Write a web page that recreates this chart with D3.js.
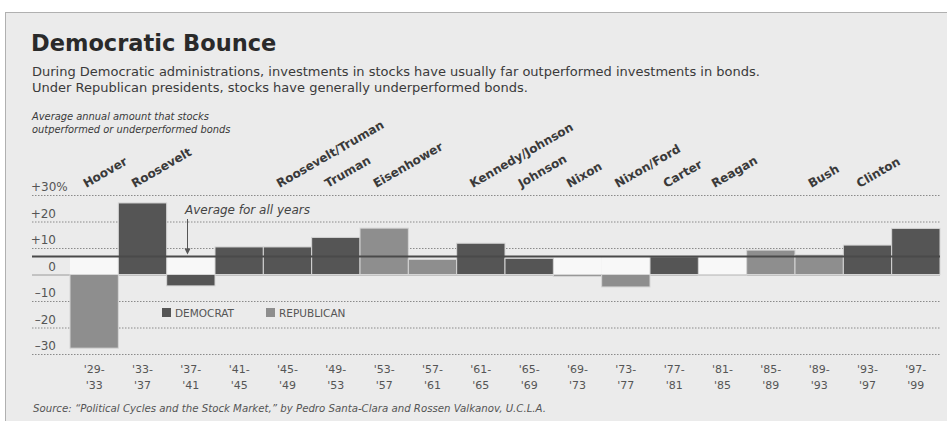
<!DOCTYPE html>
<html>
<head>
<meta charset="utf-8">
<script src="https://cdn.jsdelivr.net/npm/d3@7"></script>
<style>
  body { margin: 0; background: #fff; }
  svg { display: block; font-family: "DejaVu Sans", Verdana, sans-serif; }
</style>
</head>
<body>
<div id="chart"></div>
<script>
var periods = [["'29-", "'33"], ["'33-", "'37"], ["'37-", "'41"], ["'41-", "'45"], ["'45-", "'49"], ["'49-", "'53"],
  ["'53-", "'57"], ["'57-", "'61"], ["'61-", "'65"], ["'65-", "'69"], ["'69-", "'73"], ["'73-", "'77"],
  ["'77-", "'81"], ["'81-", "'85"], ["'85-", "'89"], ["'89-", "'93"], ["'93-", "'97"], ["'97-", "'99"]];
var presidents = ["Hoover", "Roosevelt", "", "", "Roosevelt/Truman", "Truman", "Eisenhower", "", "Kennedy/Johnson",
  "Johnson", "Nixon", "Nixon/Ford", "Carter", "Reagan", "", "Bush", "Clinton", ""];
var party = ["R", "D", "D", "D", "D", "D", "R", "R", "D", "D", "R", "R", "D", "R", "R", "R", "D", "D"];
var values = [-27.8, 27.0, -4.3, 10.4, 10.4, 14.0, 17.5, 5.7, 11.8, 6.1, -0.7, -4.7, 6.7, -0.3, 9.2, 7.4, 11.1, 17.4];
var average = 6.8;
var yTicks = [30, 20, 10, 0, -10, -20, -30];

var width = 947, height = 421;
var colors = { D: "#555555", R: "#8e8e8e" };
var ink = "#3a3a3a";

var svg = d3.select("#chart").append("svg").attr("width", width).attr("height", height);

// paper + frame
svg.append("rect").attr("x", 5.5).attr("y", 12.5).attr("width", width).attr("height", height)
  .attr("fill", "#ebebeb").attr("stroke", "#b0b0b0");

var x = d3.scaleBand().domain(d3.range(values.length)).range([70, 940]).padding(0);
var y = d3.scaleLinear().domain([-30, 30]).range([354, 195]);

// titles
svg.append("text").attr("x", 31).attr("y", 51).attr("font-size", 22.5).attr("font-weight", "bold")
  .attr("fill", "#2a2a2a").text("Democratic Bounce");
svg.append("text").attr("x", 32).attr("y", 76).attr("font-size", 13).attr("fill", ink)
  .text("During Democratic administrations, investments in stocks have usually far outperformed investments in bonds.");
svg.append("text").attr("x", 32).attr("y", 92).attr("font-size", 13).attr("fill", ink)
  .text("Under Republican presidents, stocks have generally underperformed bonds.");
svg.append("text").attr("x", 32).attr("y", 120).attr("font-size", 9.9).attr("font-style", "italic").attr("fill", ink)
  .text("Average annual amount that stocks");
svg.append("text").attr("x", 32).attr("y", 133).attr("font-size", 9.9).attr("font-style", "italic").attr("fill", ink)
  .text("outperformed or underperformed bonds");

// grid
var grid = svg.append("g");
grid.selectAll("line").data(yTicks.filter(function(d) { return d !== 0; })).enter().append("line")
  .attr("x1", 32).attr("x2", 940).attr("y1", function(d) { return y(d) + 0.5; }).attr("y2", function(d) { return y(d) + 0.5; })
  .attr("stroke", "#8a8a8a").attr("stroke-dasharray", "1.5,1.5");
grid.append("line").attr("x1", 32).attr("x2", 940).attr("y1", y(0) + 0.5).attr("y2", y(0) + 0.5)
  .attr("stroke", "#9a9a9a");

// y labels
var yl = svg.append("g").selectAll("text").data(yTicks).enter().append("text")
  .attr("x", function(d) { return d === 30 ? 31 : 56; }).attr("y", function(d) { return y(d) - 4; })
  .attr("text-anchor", function(d) { return d === 30 ? "start" : "end"; })
  .attr("font-size", 12).attr("fill", "#555")
  .text(function(d) { return d > 0 ? "+" + d : d < 0 ? "\u2013" + Math.abs(d) : "0"; });
yl.filter(function(d) { return d === 30; }).append("tspan").text("%");

// gaps between zero and average for negative columns
svg.append("g").selectAll("rect").data(values.map(function(v, i) { return { v: v, i: i }; }).filter(function(d) { return d.v < 0; }))
  .enter().append("rect")
  .attr("x", function(d) { return x(d.i); }).attr("width", x.bandwidth())
  .attr("y", y(average)).attr("height", y(0) - y(average))
  .attr("fill", "#f8f8f8");

// bars
svg.append("g").selectAll("rect").data(values).enter().append("rect")
  .attr("x", function(d, i) { return x(i); }).attr("width", x.bandwidth())
  .attr("y", function(d) { return y(Math.max(0, d)); })
  .attr("height", function(d) { return Math.abs(y(d) - y(0)); })
  .attr("fill", function(d, i) { return colors[party[i]]; })
  .attr("stroke", "#d6d6d6").attr("stroke-width", 1);

// average line
svg.append("line").attr("x1", 32).attr("x2", 940).attr("y1", y(average)).attr("y2", y(average))
  .attr("stroke", "#4a4a4a").attr("stroke-width", 2);
svg.append("text").attr("x", 185).attr("y", 214).attr("font-size", 12).attr("font-style", "italic").attr("fill", "#444")
  .text("Average for all years");
svg.append("line").attr("x1", 187.5).attr("x2", 187.5).attr("y1", 219).attr("y2", y(average) - 4)
  .attr("stroke", "#555").attr("stroke-width", 1);
svg.append("path").attr("d", "M184.5," + (y(average) - 8) + "L190.5," + (y(average) - 8) + "L187.5," + (y(average) - 2) + "Z")
  .attr("fill", "#555");

// president labels
svg.append("g").selectAll("text").data(presidents).enter().append("text")
  .attr("transform", function(d, i) { return "translate(" + (x(i) + x.bandwidth() / 2 - 8) + ",188) rotate(-30)"; })
  .attr("font-size", 12).attr("font-weight", "bold").attr("fill", ink)
  .text(function(d) { return d; });

// period labels
var pl = svg.append("g").selectAll("text").data(periods).enter().append("text")
  .attr("text-anchor", "middle").attr("font-size", 11).attr("fill", "#555");
pl.append("tspan").attr("x", function(d, i) { return x(i) + x.bandwidth() / 2; }).attr("y", 373).text(function(d) { return d[0]; });
pl.append("tspan").attr("x", function(d, i) { return x(i) + x.bandwidth() / 2; }).attr("y", 389).text(function(d) { return d[1]; });

// legend
var legend = svg.append("g").attr("transform", "translate(162,308)");
[["D", "DEMOCRAT", 0], ["R", "REPUBLICAN", 104]].forEach(function(l) {
  legend.append("rect").attr("x", l[2]).attr("y", 0).attr("width", 9).attr("height", 9).attr("fill", colors[l[0]]);
  legend.append("text").attr("x", l[2] + 13).attr("y", 9).attr("font-size", 10.5).attr("fill", "#555").text(l[1]);
});

// source
svg.append("text").attr("x", 33).attr("y", 412).attr("font-size", 10.2).attr("font-style", "italic").attr("fill", "#555")
  .text("Source: \u201cPolitical Cycles and the Stock Market,\u201d by Pedro Santa-Clara and Rossen Valkanov, U.C.L.A.");
</script>
</body>
</html>
